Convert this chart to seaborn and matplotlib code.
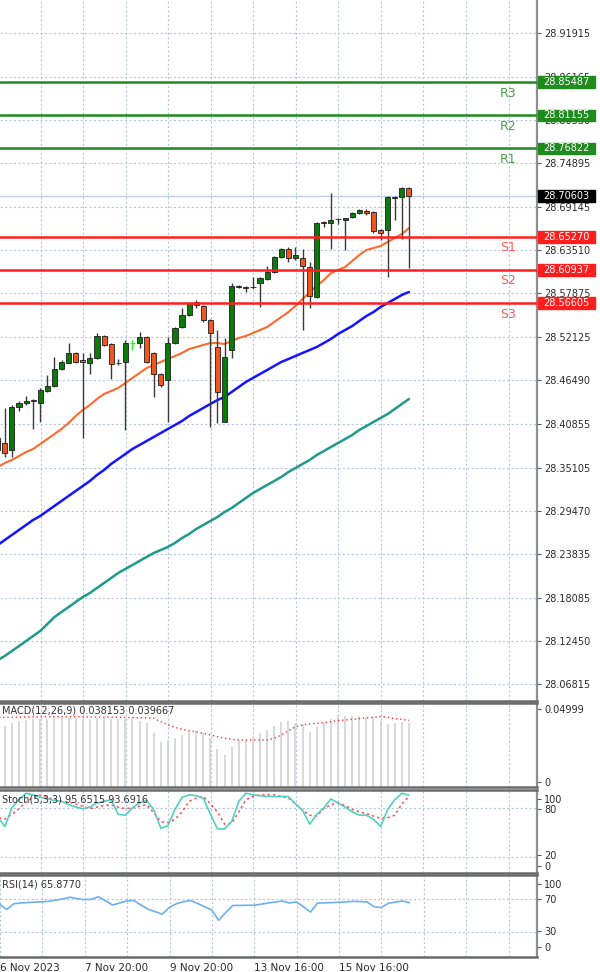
import numpy as np
import pandas as pd
import seaborn as sns
import matplotlib
matplotlib.use('Agg')
import matplotlib.pyplot as plt
from matplotlib.patches import Rectangle

# H4 candles, index -1 is the one cut off at the left edge
bar_idx = np.arange(-1, 58)

opens = [28.3897, 28.3832, 28.3741, 28.4303, 28.4355, 28.4394, 28.4355, 28.4512, 28.4577, 28.4799,
         28.4878, 28.5009, 28.4917, 28.4878, 28.4943, 28.5231, 28.5126, 28.4878, 28.4891, 28.5139,
         28.5139, 28.5218, 28.5009, 28.4734, 28.4656, 28.5139, 28.5348, 28.5505, 28.5675, 28.5623,
         28.5440, 28.5087, 28.4107, 28.5048, 28.5872, 28.5872, 28.5872, 28.5924, 28.5976, 28.6067,
         28.6263, 28.6368, 28.6250, 28.6250, 28.6133, 28.5741, 28.6721, 28.6708, 28.6754, 28.6747,
         28.6786, 28.6839, 28.6865, 28.6852, 28.6616, 28.6616, 28.7041, 28.7048, 28.7165]
highs = [28.3976, 28.4290, 28.4329, 28.4381, 28.4446, 28.4407, 28.4551, 28.4721, 28.4956, 28.4917,
         28.5139, 28.5022, 28.5009, 28.5009, 28.5270, 28.5244, 28.5139, 28.4930, 28.5178, 28.5178,
         28.5283, 28.5231, 28.5022, 28.4747, 28.5218, 28.5348, 28.5597, 28.5675, 28.5701, 28.5636,
         28.5453, 28.5309, 28.5205, 28.5924, 28.5898, 28.5885, 28.6002, 28.6002, 28.6146, 28.6277,
         28.6381, 28.6394, 28.6394, 28.6368, 28.6198, 28.6721, 28.6734, 28.7100, 28.6773, 28.6773,
         28.6852, 28.6891, 28.6891, 28.6865, 28.6629, 28.7061, 28.7061, 28.7178, 28.7178]
lows = [28.3610, 28.3649, 28.3649, 28.4250, 28.4329, 28.4015, 28.4107, 28.4499, 28.4564, 28.4786,
        28.4878, 28.4878, 28.3897, 28.4734, 28.4930, 28.5100, 28.4669, 28.4852, 28.4002, 28.5048,
        28.5074, 28.4878, 28.4433, 28.4564, 28.4107, 28.5126, 28.5335, 28.5492, 28.5597, 28.5414,
        28.4041, 28.4093, 28.4100, 28.4943, 28.5859, 28.5807, 28.5846, 28.5610, 28.5963, 28.6054,
        28.6250, 28.6198, 28.6224, 28.5309, 28.5597, 28.5728, 28.6656, 28.6368, 28.6695, 28.6355,
        28.6773, 28.6826, 28.6813, 28.6578, 28.6486, 28.6002, 28.6747, 28.6493, 28.6120]
closes = [28.3741, 28.3701, 28.4303, 28.4355, 28.4381, 28.4381, 28.4525, 28.4577, 28.4799, 28.4891,
          28.5009, 28.4891, 28.4891, 28.4943, 28.5231, 28.5113, 28.4865, 28.4882, 28.5139, 28.5139,
          28.5218, 28.4891, 28.4734, 28.4590, 28.5139, 28.5335, 28.5505, 28.5662, 28.5636, 28.5440,
          28.5270, 28.4499, 28.4956, 28.5885, 28.5885, 28.5859, 28.5870, 28.5989, 28.6067, 28.6263,
          28.6368, 28.6250, 28.6290, 28.6146, 28.5754, 28.6708, 28.6708, 28.6747, 28.6760, 28.6767,
          28.6839, 28.6878, 28.6839, 28.6603, 28.6577, 28.7048, 28.7048, 28.7165, 28.70603]

ma_fast = [28.3518, 28.3570, 28.3610, 28.3662, 28.3714, 28.3754, 28.3819, 28.3884, 28.3950, 28.4015,
           28.4094, 28.4185, 28.4263, 28.4329, 28.4407, 28.4473, 28.4512, 28.4551, 28.4616, 28.4682,
           28.4747, 28.4812, 28.4852, 28.4891, 28.4930, 28.4969, 28.5009, 28.5061, 28.5087, 28.5113,
           28.5139, 28.5139, 28.5126, 28.5165, 28.5205, 28.5231, 28.5270, 28.5309, 28.5348, 28.5414,
           28.5479, 28.5544, 28.5623, 28.5714, 28.5806, 28.5885, 28.5963, 28.6054, 28.6094, 28.6133,
           28.6211, 28.6290, 28.6355, 28.6381, 28.6407, 28.6459, 28.6512, 28.6564, 28.6642]
ma_mid = [28.2499, 28.2564, 28.2630, 28.2695, 28.2760, 28.2826, 28.2878, 28.2944, 28.3009, 28.3074,
          28.3140, 28.3205, 28.3270, 28.3335, 28.3414, 28.3479, 28.3558, 28.3623, 28.3688, 28.3754,
          28.3806, 28.3858, 28.3910, 28.3963, 28.4015, 28.4067, 28.4120, 28.4185, 28.4237, 28.4290,
          28.4342, 28.4394, 28.4433, 28.4499, 28.4564, 28.4630, 28.4682, 28.4734, 28.4786, 28.4839,
          28.4891, 28.4930, 28.4969, 28.5009, 28.5048, 28.5087, 28.5139, 28.5192, 28.5257, 28.5309,
          28.5361, 28.5427, 28.5492, 28.5544, 28.5610, 28.5662, 28.5714, 28.5767, 28.5806]
ma_slow = [28.0995, 28.1048, 28.1113, 28.1178, 28.1244, 28.1309, 28.1375, 28.1466, 28.1557, 28.1623,
           28.1688, 28.1754, 28.1819, 28.1871, 28.1937, 28.2002, 28.2067, 28.2133, 28.2185, 28.2237,
           28.2290, 28.2342, 28.2394, 28.2433, 28.2473, 28.2525, 28.2590, 28.2643, 28.2708, 28.2760,
           28.2813, 28.2865, 28.2930, 28.2982, 28.3048, 28.3113, 28.3178, 28.3231, 28.3283, 28.3335,
           28.3388, 28.3453, 28.3505, 28.3558, 28.3610, 28.3675, 28.3727, 28.3780, 28.3832, 28.3884,
           28.3937, 28.4002, 28.4054, 28.4107, 28.4159, 28.4211, 28.4276, 28.4342, 28.4407]

macd_hist = [0.0355, 0.0363, 0.0379, 0.0393, 0.0399, 0.0403, 0.0403, 0.0407, 0.0409, 0.0409,
             0.0410, 0.0409, 0.0405, 0.0406, 0.0410, 0.0408, 0.0403, 0.0406, 0.0405, 0.0403,
             0.0395, 0.0379, 0.0323, 0.0270, 0.0280, 0.0290, 0.0310, 0.0329, 0.0335, 0.0319,
             0.0290, 0.0224, 0.0190, 0.0240, 0.0280, 0.0280, 0.0300, 0.0323, 0.0339, 0.0363,
             0.0387, 0.0395, 0.0379, 0.0375, 0.0329, 0.0359, 0.0383, 0.0403, 0.0429, 0.0423,
             0.0423, 0.0423, 0.0419, 0.0415, 0.0395, 0.0375, 0.0379, 0.0385, 0.038153]
macd_signal = [0.0413, 0.0414, 0.0415, 0.0416, 0.0417, 0.0417, 0.0418, 0.0418, 0.0418, 0.0418,
               0.0418, 0.0418, 0.0417, 0.0417, 0.0416, 0.0416, 0.0415, 0.0415, 0.0414, 0.0413,
               0.0412, 0.0411, 0.0409, 0.0389, 0.0369, 0.0355, 0.0343, 0.0335, 0.0329, 0.0319,
               0.0310, 0.0300, 0.0290, 0.0284, 0.0280, 0.0280, 0.0280, 0.0280, 0.0280, 0.0290,
               0.0310, 0.0335, 0.0359, 0.0369, 0.0375, 0.0379, 0.0383, 0.0389, 0.0395, 0.0399,
               0.0403, 0.0407, 0.0411, 0.0415, 0.0419, 0.0415, 0.0407, 0.0403, 0.039667]

stoch_main = [69, 57, 80, 90, 98, 96, 93, 91, 89, 88,
              84, 81, 79, 81, 86, 88, 90, 72, 71, 80,
              86, 89, 78, 55, 58, 78, 93, 96, 95, 92,
              72, 54, 54, 63, 88, 98, 96, 95, 94, 94,
              94, 94, 85, 77, 60, 72, 80, 91, 86, 81,
              75, 71, 71, 66, 57, 78, 90, 98, 95.6515]
stoch_signal = [68, 66, 72, 79, 87, 93, 95.5, 93, 90, 88,
                87, 85, 82, 79, 81, 83, 83.5, 81, 79, 80,
                82, 84, 74, 63, 62, 66, 75, 88, 92, 94,
                85, 75, 60, 61, 75, 90, 94, 96, 96, 96,
                94, 92, 85, 77, 71, 70, 79, 84, 86, 83,
                78, 75, 73, 70, 67, 68, 71, 85, 93.6916]
rsi = [64, 57.5, 64.5, 65.5, 66, 66.5, 67, 67.5, 69, 70.5,
       72.5, 70.5, 69.5, 70, 73, 68, 63, 65.5, 68, 68.5,
       63, 58, 55, 52, 60, 64.5, 67, 68.5, 65, 61,
       57, 44.5, 54, 62.5, 62.5, 62.7, 62.7, 64, 65.5, 66.5,
       68, 65.5, 66.7, 61, 54.5, 65.5, 65.6, 65.9, 66.3, 66.7,
       67.5, 67.2, 66.7, 61, 59.8, 65, 66.5, 67.9, 65.877]

price_ticks = [28.91915, 28.86165, 28.80530, 28.74895, 28.69145, 28.63510, 28.57875, 28.52125,
               28.46490, 28.40855, 28.35105, 28.29470, 28.23835, 28.18085, 28.12450, 28.06815]
level_names = ['R3', 'R2', 'R1', 'S1', 'S2', 'S3']
level_values = [28.85487, 28.81155, 28.76822, 28.65270, 28.60937, 28.56605]
last_price = 28.70603
time_labels = ['6 Nov 2023', '7 Nov 20:00', '9 Nov 20:00', '13 Nov 16:00', '15 Nov 16:00']

df = pd.DataFrame({'i': bar_idx, 'open': opens, 'high': highs, 'low': lows, 'close': closes,
                   'ma_fast': ma_fast, 'ma_mid': ma_mid, 'ma_slow': ma_slow,
                   'hist': macd_hist, 'signal': macd_signal,
                   'k': stoch_main, 'd': stoch_signal, 'rsi': rsi})

sns.set_style('white')
plt.rcParams['font.family'] = ['DejaVu Sans']

W, H = 600, 972
fig = plt.figure(figsize=(W / 100, H / 100), dpi=100)


def panel(top, bottom):
    return fig.add_axes([0, 1 - bottom / H, 537 / W, (bottom - top) / H])


ax = panel(0, 701)
ax_macd = panel(703, 787)
ax_st = panel(790, 872.5)
ax_rsi = panel(874.5, 957)
axes = [ax, ax_macd, ax_st, ax_rsi]

x_lo = -0.677
x_hi = x_lo + 537 / 7.09
grid_x = 5.05 + 6 * np.arange(-1, 12)
grid_c = '#b4c6e0'
dots = (0, (2, 2))

for a in axes:
    a.set_xlim(x_lo, x_hi)
    for g in grid_x:
        a.axvline(g, color=grid_c, ls=dots, lw=0.8, zorder=0)
    a.yaxis.tick_right()
    a.tick_params(axis='y', length=3, width=0.8, color='#555555', labelsize=7,
                  labelcolor='#2b2b2b', pad=2)
    a.tick_params(axis='x', length=0)
    a.set_xticks([])
    a.spines['left'].set_visible(False)
    a.spines['right'].set_color('#8f8f8f')
    a.spines['right'].set_linewidth(1.6)
    for s in ['top', 'bottom']:
        a.spines[s].set_color('#6a6a6a')
        a.spines[s].set_linewidth(1.8)
    a.set_facecolor('white')
ax.spines['top'].set_visible(False)

# ---- price panel
ax.set_ylim(28.04594, 28.96229)
ax.set_yticks(price_ticks)
ax.set_yticklabels([f'{t:.5f}' for t in price_ticks])
for t in price_ticks:
    ax.axhline(t, color=grid_c, ls=dots, lw=0.8, zorder=0)

ax.axhline(last_price, color='#c2cfe2', lw=1, zorder=1)

sns.lineplot(data=df, x='i', y='ma_slow', ax=ax, color='#1f9a8c', lw=1.8, zorder=2)
sns.lineplot(data=df, x='i', y='ma_mid', ax=ax, color='#1414ff', lw=1.8, zorder=2)
sns.lineplot(data=df, x='i', y='ma_fast', ax=ax, color='#ff6a2a', lw=1.5, zorder=2)

up = df['close'] > df['open']
down = df['close'] < df['open']
flat = df['close'] == df['open']
ax.vlines(df.loc[~flat, 'i'], df.loc[~flat, 'low'], df.loc[~flat, 'high'],
          color='#3a3a3a', lw=1, zorder=3)
ax.vlines(df.loc[flat, 'i'], df.loc[flat, 'low'], df.loc[flat, 'high'],
          color='#33ee33', lw=1, zorder=3)
for mask, col in [(up, '#0b7a0b'), (down, '#f0561e')]:
    sub = df[mask]
    ax.bar(sub['i'], (sub['close'] - sub['open']).abs(),
           bottom=np.minimum(sub['open'], sub['close']),
           width=0.72, color=col, edgecolor='#1e1e1e', lw=0.6, zorder=4)
ax.hlines(df.loc[flat, 'open'], df.loc[flat, 'i'] - 0.36, df.loc[flat, 'i'] + 0.36,
          color='#33ee33', lw=1, zorder=4)

lab_off = 0.0144
for name, val in zip(level_names, level_values):
    if name.startswith('R'):
        line_c, txt_c = '#1f8b1f', '#45a045'
    else:
        line_c, txt_c = '#ff1e1e', '#ff5a5a'
    ax.axhline(val, color=line_c, lw=1.8, zorder=5)
    ax.text(70.97, val - lab_off, name, color=txt_c, fontsize=9, ha='center', va='center',
            zorder=6)
    ax.add_patch(Rectangle((1.002, val - 0.0076), 0.106, 0.0152, transform=ax.get_yaxis_transform(),
                           facecolor=line_c, edgecolor=line_c, clip_on=False, zorder=7))
    ax.text(1.012, val, f'{val:.5f}', transform=ax.get_yaxis_transform(), color='white',
            fontsize=7, ha='left', va='center', clip_on=False, zorder=8)

ax.add_patch(Rectangle((1.002, last_price - 0.0076), 0.106, 0.0152,
                       transform=ax.get_yaxis_transform(), facecolor='black',
                       edgecolor='black', clip_on=False, zorder=7))
ax.text(1.012, last_price, f'{last_price:.5f}', transform=ax.get_yaxis_transform(),
        color='white', fontsize=7, ha='left', va='center', clip_on=False, zorder=8)

# ---- MACD
ax_macd.set_ylim(0, 0.04999)
ax_macd.vlines(df['i'], 0, df['hist'], color='#d2d2d2', lw=1.2, zorder=2)
sns.lineplot(data=df, x='i', y='signal', ax=ax_macd, color='#ff3030', lw=1,
             linestyle=(0, (1, 2)), zorder=3)
ax_macd.set_yticks([0.0465, 0.003])
ax_macd.set_yticklabels(['0.04999', '0'])
ax_macd.text(2 / 537, 0.905, 'MACD(12,26,9) 0.038153 0.039667', transform=ax_macd.transAxes,
             fontsize=7, color='#333333', va='center', ha='left', zorder=5)

# ---- Stochastic
ax_st.set_ylim(0.4, 102)
for lv in [80, 20]:
    ax_st.axhline(lv, color=grid_c, ls=dots, lw=0.8, zorder=0)
sns.lineplot(data=df, x='i', y='k', ax=ax_st, color='#52cfc4', lw=1.2, zorder=3)
sns.lineplot(data=df, x='i', y='d', ax=ax_st, color='#ff4a4a', lw=1.1,
             linestyle=(0, (1.5, 2)), zorder=2)
ax_st.set_yticks([91, 78.5, 22.5, 8.8])
ax_st.set_yticklabels(['100', '80', '20', '0'])
ax_st.text(2 / 537, 0.88, 'Stoch(5,3,3) 95.6515 93.6916', transform=ax_st.transAxes,
           fontsize=7, color='#333333', va='center', ha='left', zorder=5)

# ---- RSI
ax_rsi.set_ylim(0, 100)
for lv in [70, 30]:
    ax_rsi.axhline(lv, color=grid_c, ls=dots, lw=0.8, zorder=0)
sns.lineplot(data=df, x='i', y='rsi', ax=ax_rsi, color='#6cb0f2', lw=1.2, zorder=3)
ax_rsi.set_yticks([88, 70, 32, 12])
ax_rsi.set_yticklabels(['100', '70', '30', '0'])
ax_rsi.text(2 / 537, 0.88, 'RSI(14) 65.8770', transform=ax_rsi.transAxes,
            fontsize=7, color='#333333', va='center', ha='left', zorder=5)

for a in axes:
    a.set_xlabel('')
    a.set_ylabel('')
    a.set_xlim(x_lo, x_hi)

ax_rsi.set_xticks(grid_x[[0, 2, 4, 6, 8]])
ax_rsi.set_xticklabels(time_labels, ha='left', fontsize=7.5, color='#2b2b2b')
ax_rsi.tick_params(axis='x', length=0, pad=4)

fig.savefig('out.png', dpi=100)
